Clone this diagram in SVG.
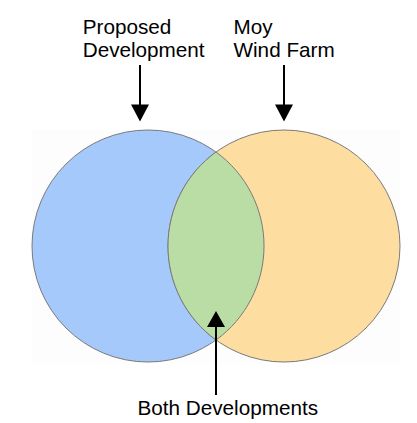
<svg xmlns="http://www.w3.org/2000/svg" width="417" height="423" viewBox="0 0 417 423">
<style>
.lbl{font-family:"Liberation Sans",Arial,sans-serif;font-size:20.7px;fill:#000}
.set{stroke:#7a7a7a;stroke-width:1}
.conn line{stroke:#000;stroke-width:2}
.conn polygon{fill:#000}
</style>
<rect width="417" height="423" fill="#fff"/>
<rect x="32" y="130" width="368" height="233" fill="#fdfdfd"/>
<g id="proposed">
<circle class="set" cx="148" cy="246" r="116" fill="#a5c9fb"/>
</g>
<g id="moy">
<circle class="set" cx="284" cy="246" r="116" fill="#fedda1"/>
</g>
<g id="both">
<path class="set" d="M216,152 A116,116 0 0 1 216,340 A116,116 0 0 1 216,152 Z" fill="#b9dda5"/>
</g>
<g id="label-proposed">
<text class="lbl" x="82.7" y="34">Proposed</text>
<text class="lbl" x="82.7" y="56.7">Development</text>
</g>
<g id="label-moy">
<text class="lbl" x="233.5" y="34">Moy</text>
<text class="lbl" x="233.5" y="56.7">Wind Farm</text>
</g>
<g id="label-both">
<text class="lbl" x="137.5" y="415">Both Developments</text>
</g>
<g class="conn" id="connectors">
<line x1="140" y1="65" x2="140" y2="106"/>
<polygon points="131,104.5 149,104.5 140,121.5"/>
<line x1="284" y1="65" x2="284" y2="106"/>
<polygon points="275,104.5 293,104.5 284,121.5"/>
<line x1="216" y1="395" x2="216" y2="325"/>
<polygon points="207,327 225,327 216,311"/>
</g>
</svg>
